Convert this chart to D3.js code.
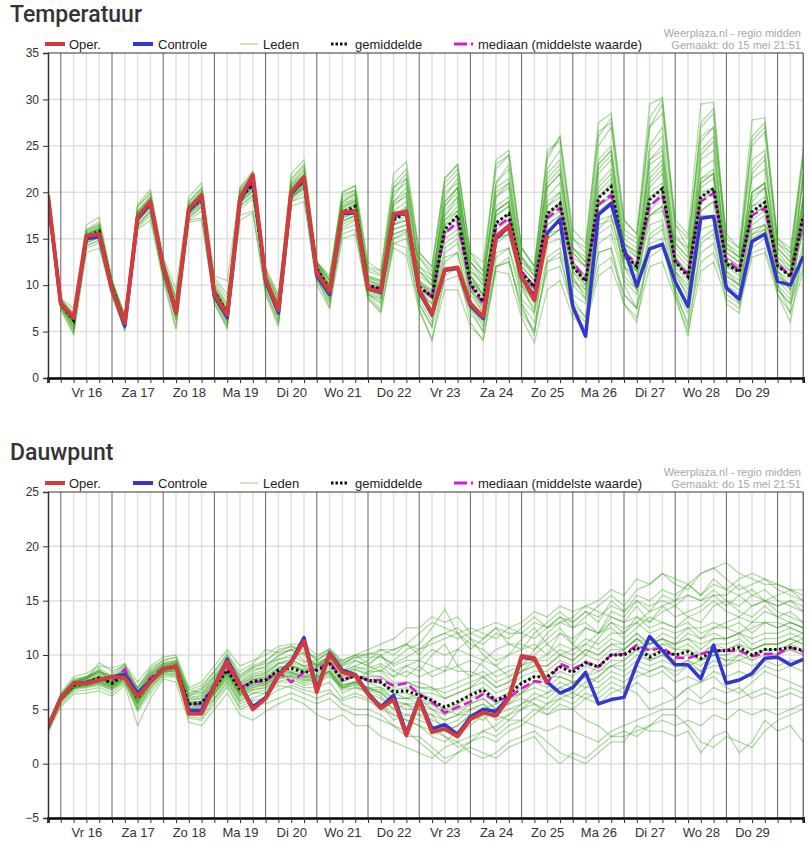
<!DOCTYPE html>
<html><head><meta charset="utf-8">
<script src="https://cdn.jsdelivr.net/npm/d3@7"></script>
<style>body{margin:0;background:#fff;} svg{display:block;}</style>
</head><body>
<svg id="c" width="809" height="844"></svg>
<script>
// ---------- DATA ----------
// time steps: every 6 h from Thu 15 May 18:00 to Fri 30 May 12:00 (60 steps)
const dayLabels = ["Vr 16","Za 17","Zo 18","Ma 19","Di 20","Wo 21","Do 22","Vr 23","Za 24","Zo 25","Ma 26","Di 27","Wo 28","Do 29"];
const tempTicks = [0,5,10,15,20,25,30,35];
const dewTicks = [-5,0,5,10,15,20,25];
const legendLabels = ["Oper.","Controle","Leden","gemiddelde","mediaan (middelste waarde)"];
const sourceText = ["Weerplaza.nl - regio midden","Gemaakt: do 15 mei 21:51"];

const tempOper = [19.7, 8.0,6.5,15.3,15.5, 9.5,5.9,17.3,19.0, 12.0,7.0,18.2,19.7, 9.0,6.8,19.3,21.9, 10.7,7.3,20.0,21.6, 11.3,9.3,17.9,17.9, 9.6,9.3,17.7,17.9, 9.5,6.9,11.7,11.9, 8.0,6.6,15.2,16.4, 10.9,8.4,15.4];
const tempCtrl = [19.5, 8.0,6.4,15.0,15.2, 9.5,5.6,17.1,18.8, 12.0,7.0,18.0,19.5, 8.8,6.5,19.0,21.7, 10.5,7.0,19.8,21.4, 11.0,9.0,17.7,17.8, 9.6,9.2,17.5,17.8, 9.3,6.8,11.6,11.8, 7.8,6.4,15.0,16.3, 10.8,8.8,15.6,17.1, 7.7,4.5,17.6,18.8, 14.0,9.9,13.9,14.4, 10.4,7.7,17.2,17.4, 9.7,8.5,14.7,15.5, 10.4,10.0,13.1];
const tempMean = [19.3, 8.0,6.2,15.2,15.8, 9.8,6.0,17.3,18.8, 11.8,7.3,18.0,19.3, 9.3,7.0,19.4,20.8, 10.5,7.5,20.0,21.2, 11.8,9.5,17.8,18.5, 10.0,9.6,17.0,17.8, 9.8,8.8,16.0,17.5, 10.2,8.2,16.7,17.7, 11.3,9.8,17.7,18.8, 12.0,10.4,19.4,20.6, 13.4,12.0,19.2,20.4, 12.5,10.9,19.5,20.4, 12.3,11.4,17.9,18.9, 12.1,10.9,17.4];
const tempMedian = [19.3, 8.0,6.3,15.2,15.6, 9.7,6.0,17.4,18.9, 11.8,7.2,18.1,19.4, 9.2,6.9,19.5,21.0, 10.4,7.4,20.1,21.3, 11.7,9.4,17.6,18.2, 9.9,9.5,17.2,18.0, 9.9,8.7,15.6,16.8, 10.0,8.0,16.2,17.2, 11.5,9.8,17.2,18.3, 12.5,10.6,18.7,19.7, 13.6,12.3,18.5,19.7, 12.6,11.2,19.0,19.9, 12.8,11.6,17.5,18.3, 12.3,11.0,17.0];
const tempMembers = [
[19.5, 8.3,6.5,15.5,16.0, 10.0,6.2,17.5,19.0, 12.0,7.5,18.3,19.8, 9.5,7.2,19.8,21.3, 10.8,7.8,20.5,21.8, 12.0,9.8,18.5,19.5, 10.5,10.0,19.0,20.5, 11.5,10.0,19.5,21.5, 12.0,10.0,21.0,23.0, 13.0,11.0,22.5,24.5, 14.0,12.5,25.0,27.0, 15.0,14.0,27.0,29.5, 15.5,13.5,27.5,29.0, 14.5,13.0,26.0,27.5, 14.0,12.5,23.5],
[19.0, 7.8,5.8,14.5,15.2, 9.5,5.6,16.5,18.0, 11.0,6.8,17.2,18.5, 8.8,6.5,18.5,19.8, 10.0,7.0,19.5,20.5, 11.0,8.5,16.0,16.5, 9.0,8.0,14.5,14.0, 8.0,5.5,10.5,11.0, 7.0,5.0,12.0,12.5, 8.0,6.0,11.5,12.0, 7.5,6.0,12.0,13.0, 9.0,7.5,13.0,14.0, 9.5,7.0,13.5,14.5, 9.0,8.0,13.5,14.0, 9.5,8.0,12.0],
[19.8, 8.1,6.3,15.0,15.6, 9.7,6.1,17.8,19.3, 12.2,7.8,18.6,19.9, 10.0,7.8,20.0,21.5, 11.2,8.3,21.0,22.5, 12.3,10.2,19.0,19.8, 11.0,10.5,20.5,21.5, 12.0,10.5,20.0,21.0, 12.5,11.0,20.5,21.5, 13.0,11.0,21.5,23.0, 13.5,12.0,23.0,24.5, 14.5,13.0,23.0,24.0, 13.0,11.0,21.5,22.5, 13.0,12.0,20.0,21.0, 13.0,11.5,19.5],
[19.2, 7.6,5.2,14.8,15.3, 9.3,5.8,17.0,18.5, 11.5,6.5,17.8,19.0, 9.0,6.0,18.8,20.2, 10.2,6.8,19.3,20.8, 11.5,9.0,17.0,17.5, 9.5,9.0,16.5,17.0, 9.5,8.5,15.0,16.0, 9.0,7.0,14.5,15.5, 10.0,8.0,15.0,16.0, 10.5,9.0,16.0,17.5, 12.0,10.5,17.5,18.5, 11.0,9.0,18.0,19.0, 11.0,10.0,16.5,17.5, 11.0,9.5,16.0],
[19.6, 8.4,6.8,15.8,16.5, 10.2,6.5,18.0,19.5, 12.5,8.0,18.5,20.0, 9.8,7.5,20.0,21.5, 10.8,8.0,20.8,22.0, 12.0,10.0,18.5,19.0, 10.0,9.5,18.0,19.0, 10.5,9.0,17.5,19.0, 11.0,9.0,18.5,19.5, 12.0,10.5,19.5,21.0, 12.5,11.0,21.0,22.5, 13.5,12.5,22.0,23.5, 13.0,11.5,22.5,23.5, 13.0,12.0,20.0,21.0, 12.5,11.0,19.0],
[18.8, 7.9,6.0,14.9,15.5, 9.6,5.9,17.2,18.6, 11.6,7.0,17.6,18.8, 9.2,6.8,19.0,20.5, 10.4,7.2,19.6,20.8, 11.5,9.2,17.5,18.2, 9.8,9.3,16.5,17.5, 9.8,8.5,16.5,17.0, 10.0,7.5,16.0,17.0, 11.0,9.5,16.5,17.5, 11.5,10.0,18.0,19.0, 13.0,11.5,18.0,19.5, 12.0,10.5,19.0,20.0, 12.0,11.0,17.5,18.5, 11.5,10.5,17.0],
[19.4, 8.2,6.6,15.4,16.2, 10.1,6.3,17.6,19.2, 12.0,7.6,18.4,19.6, 9.6,7.3,19.6,21.0, 10.9,7.9,20.4,21.8, 12.4,10.5,20.0,20.7, 12.0,11.5,22.0,23.3, 13.5,12.0,21.5,23.0, 13.0,11.5,22.5,24.0, 14.0,12.0,23.5,26.0, 15.0,13.5,26.0,28.0, 16.0,15.0,28.0,30.0, 16.5,14.0,27.0,28.5, 14.0,13.0,25.0,26.5, 14.5,13.0,24.8],
[19.0, 7.5,4.8,14.0,14.5, 9.0,5.2,16.2,17.5, 10.8,5.5,17.0,17.2, 8.0,5.3,17.5,18.0, 9.2,5.8,19.0,19.5, 10.5,8.0,15.5,16.0, 8.6,7.2,14.0,13.2, 7.2,4.2,9.5,9.5, 5.5,4.2,11.5,11.2, 6.5,3.8,9.5,10.5, 6.5,5.5,11.0,12.0, 8.0,6.5,12.0,12.5, 8.5,5.0,11.5,12.5, 8.5,7.5,13.0,13.5, 9.0,7.0,11.5],
[19.3, 8.0,6.1,15.1,15.7, 9.8,6.0,17.4,19.0, 11.9,7.2,18.1,19.4, 9.4,7.1,19.5,20.9, 10.6,7.5,20.1,21.3, 11.8,9.4,18.0,18.8, 10.2,9.8,17.5,18.5, 10.2,9.0,17.0,18.5, 10.5,8.5,17.5,18.5, 11.5,10.0,18.5,19.5, 12.0,10.5,19.5,21.0, 13.5,12.0,20.0,21.0, 12.5,11.0,20.5,21.5, 12.5,11.5,18.5,19.5, 12.0,11.0,18.0],
[19.1, 7.7,5.5,14.6,15.1, 9.4,5.7,16.8,18.3, 11.3,6.8,17.5,18.6, 8.6,6.4,18.8,20.1, 10.0,7.0,19.4,20.4, 11.3,8.8,16.5,17.2, 9.4,8.8,15.5,16.0, 9.0,7.5,13.5,14.5, 8.5,6.5,13.5,14.0, 9.5,7.5,14.5,15.0, 10.0,8.5,15.5,16.5, 11.0,9.5,15.5,16.5, 10.5,8.0,16.0,16.5, 10.0,9.0,15.5,16.5, 10.5,9.0,14.5],
[19.7, 8.5,6.9,15.9,16.6, 10.4,6.6,18.4,19.8, 12.8,8.5,19.0,20.4, 10.2,8.0,20.3,21.8, 11.3,8.5,21.3,22.8, 12.5,10.8,19.8,20.2, 11.5,11.0,21.0,22.5, 13.0,11.5,21.0,22.5, 13.5,11.5,23.5,24.5, 14.0,12.0,24.5,25.5, 15.0,14.0,27.5,28.5, 17.0,15.5,29.5,30.2, 17.0,15.5,29.5,29.7, 15.0,14.0,27.8,28.0, 15.0,13.5,23.5],
[19.4, 8.1,6.4,15.2,15.9, 9.9,6.1,17.3,18.9, 11.7,7.4,18.0,19.2, 9.3,7.0,19.2,20.6, 10.5,7.6,19.9,21.0, 11.9,9.6,18.2,19.0, 10.4,9.9,17.0,18.0, 10.0,9.5,18.0,19.5, 11.0,9.0,18.0,19.0, 11.0,9.5,19.0,20.0, 12.5,11.0,20.5,22.0, 13.0,12.0,21.0,22.5, 13.5,12.0,21.5,22.0, 12.0,11.5,19.0,20.5, 12.5,11.5,19.5],
[19.2, 7.9,6.2,15.0,15.4, 9.6,5.8,17.0,18.7, 11.8,7.1,18.2,19.1, 9.1,6.9,19.3,20.7, 10.3,7.4,19.8,21.0, 11.6,9.3,17.6,18.0, 9.7,9.0,15.0,15.5, 8.8,7.0,13.0,13.5, 8.0,5.5,12.0,12.5, 7.5,5.0,12.5,13.0, 8.0,6.5,13.5,14.0, 9.0,7.5,14.0,14.5, 9.0,6.0,12.5,13.5, 9.5,8.5,14.0,15.0, 9.5,8.0,13.0],
[19.5, 8.2,6.5,15.3,16.1, 10.0,6.2,17.5,19.1, 12.1,7.7,18.3,19.5, 9.5,7.1,19.7,21.0, 10.7,7.7,20.2,21.5, 12.1,9.9,18.8,19.2, 10.8,10.2,19.0,20.0, 11.0,10.0,19.0,20.5, 11.5,10.5,19.5,20.5, 12.0,10.5,20.5,22.0, 13.5,12.0,22.0,23.5, 14.0,13.0,23.5,24.5, 14.5,13.0,23.5,24.5, 13.5,12.5,21.5,22.5, 13.5,12.0,21.0],
[19.0, 7.8,5.9,14.7,15.2, 9.5,5.9,17.0,18.4, 11.4,6.9,17.8,19.0, 8.9,6.6,19.0,20.2, 10.1,7.2,19.6,20.6, 11.4,9.0,16.8,17.5, 9.2,8.6,16.0,16.5, 9.2,8.0,14.0,15.0, 9.5,7.5,15.0,15.5, 10.0,8.5,15.5,16.0, 10.5,9.5,17.0,17.5, 12.0,11.0,16.5,17.0, 11.5,9.5,17.5,17.5, 11.0,10.0,16.0,16.5, 11.0,10.0,16.0],
[19.3, 8.0,6.3,15.2,15.8, 9.8,6.0,17.3,18.8, 11.8,7.3,18.0,19.3, 9.3,7.0,19.4,20.8, 10.5,7.5,20.0,21.2, 11.8,9.5,17.8,18.5, 10.0,9.6,17.0,17.8, 10.0,8.8,16.0,17.5, 10.2,8.2,16.7,17.7, 11.3,9.8,17.7,18.8, 12.0,10.4,19.4,20.6, 13.4,12.0,19.2,20.4, 12.5,10.9,19.5,20.4, 12.3,11.4,17.9,18.9, 12.1,10.9,17.4],
[19.6, 8.3,5.0,15.6,16.3, 9.9,5.3,17.9,19.5, 12.3,6.2,18.8,20.2, 8.3,5.6,20.2,21.7, 9.5,6.0,20.8,22.3, 10.8,7.6,18.9,19.8, 8.8,7.5,18.5,19.8, 8.0,5.5,17.5,19.5, 7.5,5.0,18.0,19.0, 8.0,4.5,18.5,20.0, 8.5,6.5,20.0,21.5, 10.0,7.5,21.5,23.0, 9.5,5.5,21.0,22.0, 10.0,8.0,19.5,20.5, 10.0,7.0,19.0],
[19.0, 8.0,6.6,14.3,14.7, 10.3,6.7,16.5,18.0, 12.5,8.8,17.3,18.4, 10.8,9.0,18.5,19.6, 11.8,8.8,19.2,20.4, 12.3,10.5,16.8,17.5, 11.8,11.2,15.5,16.0, 13.0,11.0,14.5,15.5, 12.5,10.5,15.0,15.5, 13.0,11.5,15.0,16.0, 14.0,12.5,16.5,17.0, 15.5,14.5,17.5,18.0, 15.0,14.0,17.0,17.5, 14.5,13.5,16.0,16.5, 14.5,13.5,15.5],
[19.8, 8.4,6.7,15.7,16.4, 10.3,6.4,17.8,19.4, 12.4,7.9,18.6,20.0, 9.7,7.4,19.9,21.4, 10.9,8.0,20.6,21.9, 12.2,10.0,19.2,20.0, 10.6,10.0,20.0,21.0, 11.5,10.0,20.5,22.0, 11.0,9.5,21.0,22.5, 11.5,10.0,22.0,23.5, 12.0,10.0,23.0,24.5, 13.0,11.5,24.5,26.0, 13.0,11.0,24.5,26.0, 12.5,11.5,22.0,23.5, 12.5,11.0,21.5],
[19.3, 8.1,6.0,15.0,15.6, 9.7,5.8,17.1,18.7, 11.7,7.0,17.9,19.1, 9.0,6.7,19.2,20.5, 10.3,7.3,19.9,21.0, 11.6,9.3,17.2,17.8, 9.6,9.2,16.5,17.0, 9.5,8.0,15.5,16.5, 9.5,7.8,15.5,16.5, 10.5,9.0,16.5,17.5, 11.5,9.5,17.5,18.5, 12.5,11.5,17.5,18.5, 11.5,10.0,18.0,19.0, 11.5,10.5,17.0,18.0, 11.5,10.0,16.5],
[19.1, 7.6,5.6,15.5,16.0, 9.2,5.5,17.6,18.9, 11.1,6.6,18.4,19.4, 8.7,6.2,19.6,20.9, 10.0,6.6,20.3,21.4, 11.0,8.5,18.3,19.2, 9.0,8.2,18.8,19.5, 9.0,6.5,19.0,20.5, 9.5,7.0,19.5,21.0, 10.0,7.0,20.5,22.0, 11.0,8.5,22.5,24.0, 12.0,9.5,23.5,25.0, 11.5,8.5,24.0,25.5, 11.5,10.0,22.5,24.0, 11.5,9.5,22.0],
[19.4, 8.2,6.4,15.4,16.1, 10.0,6.3,17.5,19.0, 12.0,7.5,18.2,19.5, 9.6,7.3,19.6,21.0, 10.6,7.8,20.3,21.6, 12.0,9.8,17.3,17.8, 10.8,10.4,16.0,16.5, 11.5,10.5,17.0,18.0, 11.5,10.0,16.5,17.0, 12.5,11.0,17.0,18.0, 13.0,12.0,18.5,19.5, 14.5,13.5,19.5,20.5, 14.0,12.5,20.0,20.5, 13.5,12.5,18.5,19.0, 13.0,12.0,18.0],
[19.2, 7.9,6.0,14.9,15.4, 9.6,6.0,17.0,18.5, 11.6,7.2,17.7,18.9, 9.2,6.9,19.2,20.6, 10.4,7.4,19.7,21.0, 11.7,9.4,17.5,18.3, 9.9,9.4,17.5,18.2, 10.5,9.5,18.5,20.0, 10.5,9.0,18.0,19.0, 11.0,9.5,17.5,18.5, 12.0,10.5,18.5,19.5, 13.0,12.0,20.5,22.0, 12.5,11.0,21.0,22.0, 12.5,11.5,20.0,21.0, 12.0,11.0,19.0],
[19.5, 8.1,6.2,15.1,15.8, 9.8,6.1,17.2,18.8, 11.9,7.3,18.1,19.3, 9.4,7.0,19.3,20.7, 10.5,7.6,20.0,21.2, 11.9,9.6,18.0,18.7, 10.1,9.7,17.3,18.3, 10.3,9.2,16.5,18.0, 10.8,8.8,17.5,18.5, 11.5,10.0,17.5,19.0, 12.3,10.8,18.5,20.0, 13.0,11.8,18.5,20.0, 12.8,11.2,19.0,20.5, 12.5,11.5,17.5,18.5, 12.0,11.0,17.5],
[19.9, 8.6,7.5,16.5,17.3, 10.6,6.8,18.7,20.3, 13.0,9.5,19.5,21.0, 11.0,10.5,20.5,22.3, 11.8,9.0,22.0,23.5, 12.5,11.0,20.0,20.7, 12.5,11.5,20.5,22.0, 13.5,12.0,21.5,23.0, 13.5,12.5,23.0,24.0, 14.0,12.0,24.0,26.0, 16.0,14.5,26.5,27.5, 17.0,15.5,27.0,28.5, 16.5,15.0,26.0,27.0, 15.5,14.0,25.5,27.0, 15.0,14.0,24.0],
[18.5, 7.3,4.7,13.5,14.0, 8.8,5.0,16.0,17.0, 10.5,5.2,16.8,17.0, 8.0,5.5,17.0,17.8, 9.0,5.5,18.5,19.0, 10.0,7.5,15.0,15.5, 8.5,7.0,14.5,15.0, 7.5,4.0,11.0,12.0, 6.0,4.0,12.0,13.0, 7.0,5.0,12.5,13.5, 7.0,5.0,13.5,14.0, 8.0,6.0,14.5,15.0, 9.0,4.5,14.5,15.5, 8.0,7.0,15.5,16.0, 9.0,6.0,14.0],
[19.6, 8.5,7.0,16.0,16.8, 10.5,6.5,18.5,20.0, 12.5,8.5,19.0,20.5, 10.5,8.5,20.5,22.0, 11.5,8.5,21.5,23.0, 12.5,10.5,19.5,20.2, 11.0,10.5,19.5,21.5, 12.0,11.0,18.5,20.5, 12.5,11.0,20.0,21.0, 12.5,11.5,21.0,22.5, 14.0,13.0,23.5,25.0, 14.5,13.5,25.0,27.0, 14.5,13.0,25.5,27.0, 14.0,13.0,23.5,24.5, 14.0,12.5,22.0],
[19.0, 7.7,5.4,14.2,14.9, 9.3,5.4,16.4,17.8, 11.2,6.2,17.0,18.0, 8.5,5.8,18.2,19.3, 9.6,6.2,19.0,20.0, 10.8,8.2,16.2,17.0, 9.0,8.5,15.0,15.8, 8.5,6.0,12.5,13.5, 7.5,6.0,13.0,14.0, 8.5,7.0,13.0,14.0, 9.0,8.0,14.5,15.5, 10.5,9.0,15.0,16.0, 10.0,7.5,15.0,16.0, 10.5,9.5,15.0,16.0, 10.0,8.5,13.5]
];

const dewOper = [3.4, 6.0,7.4,7.4,7.7, 8.0,7.9,6.2,7.5, 8.7,9.0,4.6,4.6, 7.1,9.4,7.2,5.0, 6.0,8.1,9.3,11.3, 6.6,10.1,8.4,8.1, 6.4,5.1,5.9,2.6, 5.9,2.9,3.2,2.5, 4.1,4.7,4.4,6.0, 9.9,9.7,7.4];
const dewCtrl = [3.4, 6.0,7.4,7.5,7.7, 8.0,8.2,6.5,7.6, 8.7,9.0,4.9,4.9, 7.2,9.6,7.3,5.2, 6.1,8.2,9.4,11.6, 6.8,10.2,8.6,8.2, 6.5,5.2,6.3,2.8, 6.0,3.2,3.6,2.7, 4.3,5.0,4.8,6.1, 9.8,9.6,7.5,6.5, 7.0,8.4,5.5,5.9, 6.1,9.2,11.7,10.4, 9.1,9.1,7.8,10.9, 7.4,7.7,8.3,9.7, 9.8,9.1,9.6];
const dewMean = [3.3, 6.0,7.2,7.5,7.9, 7.4,8.2,6.0,7.7, 8.7,8.9,5.5,5.6, 7.0,8.6,6.8,7.6, 7.7,8.6,8.8,8.4, 8.6,9.2,7.7,8.1, 7.7,7.5,6.6,6.7, 6.3,5.8,5.2,5.7, 6.3,6.8,5.8,6.4, 7.4,8.0,8.0,8.9, 8.4,9.3,8.9,10.0, 10.0,10.7,9.8,10.4, 10.0,10.3,9.7,10.4, 10.4,10.7,10.0,10.5, 10.5,10.7,10.4];
const dewMedian = [3.3, 6.0,7.3,7.5,7.8, 7.6,8.7,6.2,7.9, 8.8,8.9,5.4,5.5, 7.3,8.8,7.0,7.5, 7.6,8.5,7.5,8.4, 8.7,9.4,7.7,8.1, 7.7,7.7,7.2,7.4, 6.4,5.7,4.7,5.2, 5.7,6.4,5.8,6.1, 6.9,7.6,7.4,9.2, 8.7,9.3,8.9,10.0, 10.1,10.9,10.4,10.7, 9.8,9.7,10.1,10.4, 10.4,10.4,9.9,10.1, 10.1,10.7,10.3];
const dewMembers = [
[3.5, 6.3,7.6,7.8,8.5, 7.9,8.8,6.5,8.3, 9.2,9.5,6.2,6.8, 8.0,9.5,7.5,8.5, 9.0,10.0,10.5,9.5, 9.0,10.0,8.5,9.5, 9.0,8.5,9.5,10.5, 11.0,12.5,14.2,12.0, 11.0,10.5,9.5,10.0, 11.5,12.5,11.0,12.0, 11.0,12.5,12.0,13.5, 13.0,14.5,13.0,14.0, 14.5,13.5,13.0,14.5, 15.0,14.0,13.5,14.5, 13.5,14.0,13.0],
[3.1, 5.6,6.8,7.0,7.2, 6.8,7.6,5.2,7.0, 8.3,8.2,4.8,4.5, 6.0,7.5,5.5,6.0, 6.5,7.5,7.5,7.0, 7.0,7.5,6.0,6.5, 6.0,5.5,4.5,4.0, 3.5,2.5,2.0,3.0, 3.5,4.5,3.0,4.0, 5.0,5.5,5.0,6.0, 5.5,6.5,6.0,7.0, 6.5,7.5,6.5,7.0, 6.0,7.0,6.0,7.0, 6.5,7.0,6.0,6.5, 6.0,6.5,6.0],
[3.4, 6.1,7.3,7.7,8.2, 7.6,8.4,6.3,7.9, 8.9,9.1,5.8,6.0, 7.5,9.0,7.2,8.0, 8.2,9.2,9.5,9.0, 8.0,8.5,7.0,7.5, 8.5,9.0,8.0,9.0, 8.5,10.0,11.0,9.0, 8.0,9.5,9.0,10.0, 10.5,11.0,10.0,12.0, 11.5,12.5,12.0,14.0, 13.5,15.0,14.0,15.5, 15.0,16.5,15.5,17.0, 16.0,15.5,14.5,15.0, 14.0,13.5,13.0],
[3.2, 5.8,7.0,7.3,7.6, 7.1,7.9,5.6,7.4, 8.4,8.6,5.0,5.2, 6.6,8.2,6.3,7.0, 7.2,8.0,8.0,7.6, 8.0,8.5,6.5,7.0, 6.5,6.0,5.0,5.5, 4.5,3.5,3.0,3.5, 4.5,5.0,4.0,4.5, 5.5,6.5,6.0,7.0, 6.5,7.5,8.0,9.0, 8.5,9.5,9.0,9.5, 9.0,9.5,8.5,9.5, 9.0,10.0,9.5,10.0, 10.0,10.5,10.0],
[3.6, 6.4,7.8,8.0,8.8, 8.0,9.0,7.0,8.6, 9.5,9.8,6.8,7.2, 8.5,10.2,8.0,9.0, 9.5,10.3,10.8,10.5, 9.5,10.5,9.0,10.0, 10.0,10.5,10.0,11.0, 10.0,11.5,12.0,11.5, 12.0,11.5,12.5,12.0, 12.0,13.0,12.5,13.5, 13.0,14.0,13.5,14.5, 14.0,15.0,14.5,15.0, 14.5,15.5,15.0,15.5, 15.5,16.5,15.5,16.0, 15.0,14.5,14.0],
[3.0, 5.4,6.6,6.8,7.0, 6.5,7.4,4.8,6.5, 8.0,8.0,4.2,4.0, 5.5,7.0,5.0,5.5, 5.5,6.0,6.5,6.0, 5.5,6.0,5.0,4.5, 4.5,4.0,3.5,2.5, 2.5,1.5,0.5,1.0, 2.0,3.0,2.5,3.5, 4.0,5.0,4.5,5.5, 5.0,6.0,6.5,7.5, 7.0,8.0,8.5,9.0, 8.0,9.0,9.5,10.0, 9.5,9.5,10.0,10.5, 10.0,11.0,11.5],
[3.3, 6.0,7.2,7.4,7.9, 7.3,8.3,5.9,7.6, 8.7,8.9,5.4,5.5, 7.0,8.8,6.6,7.4, 7.8,8.8,9.2,8.4, 8.8,9.5,8.0,8.3, 7.5,7.0,6.5,6.0, 6.5,6.0,5.0,5.5, 6.5,7.0,6.0,6.5, 7.5,8.0,8.0,9.0, 8.5,9.5,9.0,10.0, 10.0,11.0,10.0,10.5, 10.0,10.5,9.5,10.5, 10.5,11.0,10.0,10.5, 10.5,11.0,10.5],
[3.2, 5.9,7.1,7.2,7.5, 7.0,7.8,5.4,7.2, 8.5,8.4,4.5,4.8, 6.3,7.8,5.8,6.5, 6.8,7.6,7.8,7.2, 7.5,8.0,7.0,7.5, 7.0,6.5,5.5,5.0, 5.0,4.0,3.5,4.0, 5.0,5.5,4.5,5.0, 5.5,6.0,5.5,6.5, 6.0,7.0,7.0,8.0, 7.5,8.5,8.0,8.5, 7.5,8.0,7.5,8.5, 8.0,8.5,8.0,9.0, 8.5,9.0,8.5],
[3.5, 6.2,7.5,7.9,8.4, 7.8,8.6,6.6,8.1, 9.0,9.3,6.1,6.3, 7.8,9.3,7.4,8.3, 8.6,9.6,10.0,9.3, 9.5,10.2,9.0,9.5, 9.0,10.0,10.5,11.0, 10.5,11.5,12.0,12.5, 11.5,11.0,12.0,11.5, 12.5,13.5,12.5,13.5, 12.5,13.5,14.5,15.5, 14.5,16.0,16.5,17.5, 16.5,16.0,17.5,18.0, 17.0,16.0,16.5,17.0, 16.0,15.5,15.0],
[3.1, 5.7,6.9,7.1,7.4, 6.9,7.7,5.0,6.8, 8.2,8.3,4.3,4.2, 5.8,7.2,5.2,5.8, 6.0,6.8,7.2,6.8, 6.5,6.8,5.5,5.0, 5.0,4.5,3.5,3.0, 2.0,1.0,0.0,1.0, 1.5,1.0,0.5,1.5, 2.0,2.5,1.0,0.0, 1.0,0.5,1.5,2.5, 2.5,3.0,3.5,4.0, 3.5,4.0,3.5,4.5, 4.0,5.0,4.5,5.0, 4.5,5.0,5.5],
[3.4, 6.1,7.4,7.6,8.1, 7.5,8.5,6.1,7.8, 8.8,9.0,5.6,5.8, 7.2,8.6,7.0,7.8, 7.8,8.5,8.5,8.0, 8.5,9.0,7.5,8.0, 8.0,8.0,7.0,7.5, 7.0,7.0,6.5,7.0, 7.5,8.0,7.0,7.5, 8.5,9.0,9.0,10.0, 9.5,10.5,10.0,11.0, 11.0,12.0,11.0,11.5, 11.0,11.5,10.5,11.5, 11.5,12.0,11.5,12.0, 12.0,12.5,12.0],
[3.3, 6.0,7.2,7.5,7.8, 7.4,8.1,6.0,7.7, 8.7,8.8,5.5,5.6, 6.8,8.4,6.6,7.3, 7.4,8.3,8.6,8.2, 8.2,9.3,7.8,8.3, 7.5,7.5,6.5,6.5, 6.0,5.5,4.5,5.5, 6.0,6.5,5.5,6.5, 7.0,7.5,7.5,8.5, 8.0,9.0,8.5,9.5, 9.5,10.5,9.5,10.0, 9.5,10.0,9.5,10.0, 10.0,10.5,9.5,10.5, 10.5,10.5,10.0],
[3.5, 6.2,7.6,7.9,8.6, 7.7,8.7,6.6,8.2, 9.1,9.4,6.3,6.5, 7.6,9.8,7.7,8.7, 8.8,9.9,10.5,10.0, 9.0,9.8,8.5,9.0, 9.5,10.5,10.5,11.0, 12.0,13.0,12.5,12.0, 10.5,11.5,12.5,11.0, 10.5,12.0,13.0,14.0, 13.0,14.0,13.0,15.0, 14.0,15.5,15.0,16.0, 15.5,16.5,15.5,16.5, 16.0,17.0,17.5,17.0, 16.5,16.0,15.0],
[3.2, 5.9,7.1,7.3,7.7, 7.2,8.0,5.7,7.5, 8.5,8.6,5.2,5.3, 6.5,8.0,6.2,6.8, 7.0,7.8,8.2,7.8, 7.8,8.5,7.0,7.2, 6.5,5.5,4.0,4.5, 4.0,3.5,2.5,2.0, 2.5,3.0,3.5,4.5, 5.0,6.0,6.5,7.0, 7.5,8.0,8.5,9.0, 9.5,10.5,11.0,11.5, 11.0,12.0,11.5,12.0, 11.5,12.0,12.5,13.0, 12.5,13.0,12.5],
[3.4, 6.1,7.3,7.6,8.0, 7.5,8.3,6.2,7.8, 8.8,9.0,5.7,5.7, 7.1,8.6,6.9,7.7, 8.0,8.8,9.0,8.6, 9.0,9.8,8.5,9.0, 8.5,8.5,7.5,7.5, 7.5,7.0,6.0,6.5, 7.0,8.0,7.0,7.5, 8.5,9.5,9.5,10.5, 10.0,11.0,10.5,11.5, 11.0,12.0,11.0,11.5, 10.5,10.5,10.0,11.0, 10.5,11.0,10.5,11.0, 11.0,11.5,11.0],
[3.3, 6.0,7.1,7.4,7.8, 7.3,8.1,5.9,7.6, 8.6,8.8,5.4,5.5, 6.9,8.5,6.6,7.5, 7.6,8.4,8.4,8.0, 8.2,8.8,7.2,7.5, 7.0,6.5,5.5,5.5, 5.0,4.5,4.0,4.5, 5.0,5.5,4.5,4.0, 4.0,3.5,3.0,3.5, 3.0,2.5,2.0,3.0, 3.5,4.0,4.5,5.0, 5.0,6.0,5.5,6.0, 5.5,6.0,6.5,7.0, 6.5,7.0,6.5],
[3.4, 6.1,7.3,7.6,8.0, 7.5,8.2,6.0,7.7, 8.8,8.9,5.5,5.6, 7.0,8.6,6.8,7.6, 7.8,8.6,8.9,8.4, 8.6,9.1,7.6,8.0, 7.6,7.4,6.8,7.0, 6.5,6.5,6.0,6.5, 7.0,7.5,6.5,7.0, 8.0,8.5,8.5,9.5, 9.0,10.0,9.5,10.5, 10.5,11.5,10.5,11.0, 10.5,11.0,10.0,11.0, 11.0,11.5,10.5,11.0, 11.0,11.5,11.0],
[3.3, 6.0,7.5,7.8,9.3, 8.5,9.0,7.0,8.8, 9.5,9.8,6.5,7.0, 8.5,10.0,8.5,9.2, 10.5,10.2,10.5,10.8, 9.5,10.3,9.2,9.7, 10.2,10.0,8.5,8.0, 9.0,8.0,8.5,10.5, 11.5,10.0,9.0,8.0, 9.0,10.5,11.5,12.5, 11.0,10.0,11.5,13.0, 12.0,13.5,12.5,13.0, 12.5,13.5,14.0,15.0, 14.0,13.5,14.5,15.0, 14.5,15.0,14.0],
[3.2, 5.8,6.9,7.2,7.5, 7.0,7.8,5.5,7.3, 8.4,8.5,5.0,5.0, 6.4,7.8,6.0,6.8, 7.0,7.8,8.0,7.4, 7.8,8.3,6.8,7.0, 6.8,6.2,5.0,4.5, 4.5,4.5,3.0,3.5, 4.5,4.0,5.0,5.5, 6.5,7.5,7.0,8.0, 7.5,8.0,9.0,10.0, 10.5,11.5,11.0,12.0, 11.5,12.5,12.5,13.0, 12.5,12.0,13.0,14.0, 13.5,13.0,12.5],
[3.6, 6.3,7.7,8.0,8.6, 7.9,8.7,6.6,8.2, 9.0,9.3,6.0,6.2, 7.5,9.0,7.3,8.2, 8.4,9.3,9.6,9.0, 9.3,9.8,8.3,8.8, 8.8,9.2,8.5,9.0, 9.5,9.0,8.5,9.0, 9.5,9.0,8.0,8.5, 9.0,9.5,10.0,11.0, 10.5,11.5,11.0,12.0, 12.0,13.0,12.0,12.5, 12.0,12.5,11.5,12.5, 12.5,13.0,12.0,13.0, 12.5,13.0,12.5],
[3.1, 5.7,6.9,7.2,7.4, 7.0,7.9,5.5,7.3, 8.4,8.6,5.0,5.1, 6.5,8.1,6.3,7.0, 7.3,8.1,8.3,7.9, 8.0,8.6,7.3,7.4, 6.8,6.6,5.8,5.5, 5.5,5.0,4.5,5.0, 5.5,6.0,5.0,5.5, 6.0,5.5,4.5,5.0, 5.0,4.0,3.5,2.5, 3.0,2.5,3.5,4.5, 4.5,3.5,2.0,1.5, 2.5,2.0,1.5,3.0, 4.0,4.5,5.0],
[3.4, 6.1,7.2,7.6,7.9, 7.5,8.2,6.1,7.6, 8.6,9.0,5.6,5.7, 7.1,8.4,6.9,7.8, 8.0,8.9,9.0,8.7, 8.9,9.6,8.0,8.6, 8.2,8.0,7.3,7.5, 7.0,6.8,7.0,7.5, 8.0,8.5,7.5,8.0, 8.5,9.0,9.0,10.0, 9.5,10.5,10.0,11.0, 10.5,11.5,10.5,11.0, 11.0,11.5,11.0,11.5, 11.5,12.0,11.0,11.5, 11.5,12.0,11.5],
[3.3, 5.9,7.0,7.3,7.7, 7.2,8.0,5.8,7.5, 8.6,8.7,5.3,5.4, 6.7,8.3,6.4,7.2, 7.5,8.2,8.4,8.0, 8.0,8.4,7.2,7.6, 7.0,7.0,6.0,6.0, 6.0,5.0,4.0,4.5, 5.5,6.0,5.0,6.0, 6.5,7.0,6.5,7.5, 7.0,8.0,7.5,8.5, 8.0,9.0,8.5,9.0, 8.5,9.0,8.5,9.0, 9.0,9.5,9.0,9.5, 9.0,9.5,9.5],
[3.5, 6.2,7.5,7.8,8.3, 7.7,8.5,6.4,8.0, 9.0,9.2,5.9,6.0, 7.4,9.0,7.1,8.0, 8.3,9.2,9.3,8.9, 9.2,9.8,8.3,8.7, 8.3,8.6,8.0,8.5, 8.0,8.5,9.0,8.5, 8.5,8.0,8.5,9.0, 9.0,10.0,11.0,10.0, 10.5,11.0,12.0,12.5, 11.5,12.5,13.5,13.0, 12.5,13.0,12.0,12.5, 13.0,13.5,13.0,13.0, 13.0,12.5,12.0],
[3.6, 6.5,8.0,8.3,9.0, 8.8,9.2,7.5,9.0, 9.8,10.0,7.0,7.5, 9.0,10.5,9.0,9.5, 10.0,10.8,11.0,11.0, 10.0,10.5,9.5,10.0, 10.5,11.0,11.5,12.5, 12.5,13.5,13.0,13.5, 12.0,12.5,13.0,12.5, 13.0,14.0,13.5,14.5, 14.0,14.5,15.0,16.0, 15.5,17.0,16.5,17.5, 17.0,16.5,17.5,18.0, 18.5,17.5,17.0,16.5, 16.5,16.0,15.5],
[2.9, 5.2,6.4,6.5,6.7, 6.2,7.2,3.5,6.0, 7.8,7.5,3.8,3.5, 5.0,6.5,4.5,4.0, 4.8,5.5,6.0,5.5, 4.5,4.0,4.5,3.5, 3.5,2.5,2.0,1.5, 1.0,0.5,1.5,2.0, 1.0,0.5,1.0,2.0, 2.5,3.0,2.0,1.0, 0.5,0.0,1.0,2.0, 2.0,3.5,3.0,3.0, 2.5,3.0,1.0,2.5, 3.0,1.0,2.0,4.0, 3.0,3.5,2.0],
[3.4, 6.2,7.4,7.8,8.6, 7.4,8.6,6.9,8.4, 9.2,9.3,6.8,6.5, 8.0,9.5,8.2,8.9, 9.2,9.6,9.8,10.2, 9.0,9.5,9.5,10.0, 9.2,10.0,9.0,9.5, 9.5,10.5,10.0,10.5, 10.0,9.5,10.5,11.0, 11.0,10.5,12.0,13.0, 12.5,13.0,12.0,13.0, 12.5,13.0,14.0,14.5, 13.5,14.0,14.5,15.5, 14.5,15.5,16.0,15.0, 15.5,16.0,16.0],
[3.2, 5.8,7.0,7.1,7.3, 6.8,7.5,5.0,7.0, 8.2,8.1,4.7,4.9, 6.0,7.5,5.7,6.5, 6.5,7.2,7.0,6.5, 6.0,6.5,5.8,6.2, 5.8,5.0,4.5,4.0, 3.5,3.0,2.5,1.5, 2.0,2.5,2.0,3.0, 3.5,4.5,5.5,6.0, 6.5,6.0,5.5,6.5, 7.0,6.5,5.0,5.5, 6.0,7.0,7.5,8.0, 7.0,6.5,7.5,8.5, 8.0,7.5,7.0],
[3.5, 6.3,7.6,8.0,8.4, 8.2,9.2,6.8,8.5, 9.3,9.5,6.4,6.8, 8.2,9.9,7.9,8.8, 9.4,10.5,10.8,10.2, 9.8,10.6,9.3,9.8, 9.8,9.8,9.2,9.8, 10.5,11.0,11.5,12.0, 12.5,12.0,11.5,12.5, 12.0,11.5,12.5,13.0, 13.5,14.5,14.0,13.5, 13.0,13.5,13.0,14.5, 15.0,15.5,15.0,16.0, 15.0,14.5,15.5,15.0, 14.5,15.0,14.5],
[3.2, 5.9,7.0,7.4,7.6, 7.2,7.9,5.6,7.4, 8.5,8.7,5.1,5.3, 6.7,8.3,6.4,7.2, 7.3,8.0,8.1,7.7, 7.6,8.2,6.9,7.3, 6.9,6.8,6.0,6.0, 5.5,5.5,5.0,4.5, 4.5,5.0,5.5,6.0, 6.5,7.5,8.0,8.0, 7.5,7.0,8.0,9.0, 9.0,10.0,9.5,10.0, 9.0,9.5,9.0,10.0, 9.5,10.0,10.5,11.0, 11.0,11.5,12.0]
];

// ---------- DRAWING ----------
const svg = d3.select("#c");
const AX = "'Liberation Sans', Arial, sans-serif";
const nPts = 60;
const x = d3.scaleLinear().domain([0, nPts - 1]).range([48, 803.2]);
const C = {oper:"#d63b3b", ctrl:"#3535cf", member:"#30a010", mean:"#111", median:"#e010e0"};

function drawPanel(cfg, id) {
  const g = svg.append("g");
  const y = d3.scaleLinear().domain(cfg.domain).range([cfg.bottom, cfg.top]);
  const x0 = x(0), x1 = x(nPts - 1);

  g.append("text").attr("x", 10).attr("y", cfg.titleY).text(cfg.title)
    .attr("font-family", "Roboto, sans-serif").attr("font-weight", 500)
    .attr("font-size", 23).attr("fill", "#333");

  g.selectAll("text.src").data(sourceText).join("text").attr("class", "src")
    .attr("x", 801).attr("y", (d, i) => cfg.legendY - 7 + i * 12).attr("text-anchor", "end")
    .attr("font-family", AX).attr("font-size", 11).attr("fill", "#a8a8a8").text(d => d);

  // legend
  const ly = cfg.legendY;
  const lg = g.append("g");
  const items = [
    {x: 45, w: 20, c: C.oper, sw: 4, dash: null, tx: 69},
    {x: 133, w: 20, c: C.ctrl, sw: 4, dash: null, tx: 158},
    {x: 240, w: 18, c: "#b9dfaa", sw: 1.5, dash: null, tx: 263},
    {x: 331, w: 16, c: C.mean, sw: 3, dash: "2.5,2", tx: 355},
    {x: 454, w: 20, c: C.median, sw: 3, dash: "13,4,2,10", tx: 478}
  ];
  items.forEach((it, i) => {
    lg.append("line").attr("x1", it.x).attr("x2", it.x + it.w).attr("y1", ly).attr("y2", ly)
      .attr("stroke", it.c).attr("stroke-width", it.sw).attr("stroke-dasharray", it.dash);
    lg.append("text").attr("x", it.tx).attr("y", ly + 4.5).text(legendLabels[i])
      .attr("font-family", AX).attr("font-size", 13).attr("fill", "#222");
  });

  // grid
  const grid = g.append("g");
  grid.selectAll("line.h").data(cfg.ticks.filter(t => t > cfg.domain[0] && t < cfg.domain[1])).join("line")
    .attr("x1", x0).attr("x2", x1).attr("y1", d => y(d)).attr("y2", d => y(d))
    .attr("stroke", "#e0e0e0").attr("stroke-width", 1.5);
  grid.selectAll("line.v").data(d3.range(1, nPts - 1)).join("line")
    .attr("x1", d => x(d)).attr("x2", d => x(d)).attr("y1", cfg.top).attr("y2", cfg.bottom)
    .attr("stroke", d => (d - 1) % 4 === 0 ? "#666" : "#e0e0e0")
    .attr("stroke-width", d => (d - 1) % 4 === 0 ? 1 : 1.5);

  // clip
  svg.append("clipPath").attr("id", "clip" + id).append("rect")
    .attr("x", x0).attr("y", cfg.top).attr("width", x1 - x0).attr("height", cfg.bottom - cfg.top);
  const plot = g.append("g").attr("clip-path", `url(#clip${id})`);
  const line = d3.line().x((d, i) => x(i)).y(d => y(d));

  plot.append("g").selectAll("path").data(cfg.members).join("path")
    .attr("d", line).attr("fill", "none").attr("stroke", C.member)
    .attr("stroke-opacity", 0.38).attr("stroke-width", 1.3);
  plot.append("path").attr("d", line(cfg.median)).attr("fill", "none")
    .attr("stroke", C.median).attr("stroke-width", 2.5).attr("stroke-dasharray", "9,4");
  plot.append("path").attr("d", line(cfg.mean)).attr("fill", "none")
    .attr("stroke", C.mean).attr("stroke-width", 3).attr("stroke-dasharray", "2.5,2.5");
  plot.append("path").attr("d", line(cfg.ctrl)).attr("fill", "none")
    .attr("stroke", C.ctrl).attr("stroke-width", 3.5).attr("stroke-linejoin", "round");
  plot.append("path").attr("d", line(cfg.oper)).attr("fill", "none")
    .attr("stroke", C.oper).attr("stroke-width", 4).attr("stroke-linejoin", "round");

  // frame
  g.append("line").attr("x1", x0).attr("x2", x1).attr("y1", cfg.top).attr("y2", cfg.top)
    .attr("stroke", "#333").attr("stroke-width", 1);
  g.append("line").attr("x1", x1).attr("x2", x1).attr("y1", cfg.top).attr("y2", cfg.bottom)
    .attr("stroke", "#333").attr("stroke-width", 1);

  // y axis
  const ya = g.append("g").attr("transform", `translate(${x0},0)`)
    .call(d3.axisLeft(y).tickValues(cfg.ticks).tickSize(5).tickPadding(4).tickFormat(d3.format("d")));
  ya.select(".domain").attr("stroke", "#333").attr("stroke-width", 1.5);
  ya.selectAll(".tick line").attr("stroke", "#333");
  ya.selectAll("text").attr("font-family", AX).attr("font-size", 12).attr("fill", "#333");

  // x axis
  const xa = g.append("g").attr("transform", `translate(0,${cfg.bottom})`)
    .call(d3.axisBottom(x).tickValues(d3.range(0, nPts)).tickSize(5).tickFormat(""));
  xa.select(".domain").attr("stroke", "#000").attr("stroke-width", 2.5);
  xa.selectAll(".tick line").attr("stroke", "#333");
  const xl = g.append("g").attr("transform", `translate(0,${cfg.bottom})`)
    .call(d3.axisBottom(x).tickValues(dayLabels.map((d, i) => 3 + 4 * i)).tickSize(0).tickPadding(10)
      .tickFormat((d, i) => dayLabels[i]));
  xl.select(".domain").remove();
  xl.selectAll("text").attr("font-family", AX).attr("font-size", 13).attr("fill", "#333");
}

drawPanel({title: "Temperatuur", titleY: 22, legendY: 44, top: 53, bottom: 378, domain: [0, 35], ticks: tempTicks,
  oper: tempOper, ctrl: tempCtrl, mean: tempMean, median: tempMedian, members: tempMembers}, "t");
drawPanel({title: "Dauwpunt", titleY: 460, legendY: 483, top: 492, bottom: 818, domain: [-5, 25], ticks: dewTicks,
  oper: dewOper, ctrl: dewCtrl, mean: dewMean, median: dewMedian, members: dewMembers}, "d");
</script>
</body></html>
